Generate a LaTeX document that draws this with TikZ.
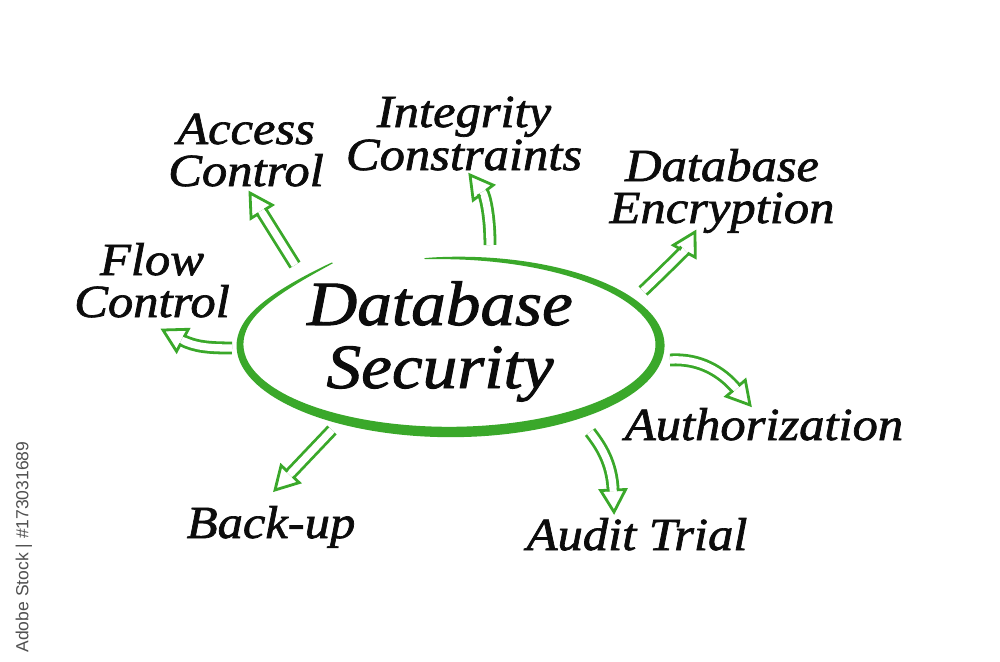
\documentclass[tikz,border=0pt]{standalone}
\usepackage{fontspec}
\setmainfont{Liberation Serif}
\setsansfont{Liberation Sans}
\newfontfamily\lblfont[ItalicFeatures={FakeStretch=1.1,FakeBold=1.5}]{Liberation Serif}
\usetikzlibrary{decorations.markings}
\definecolor{agreen}{RGB}{58,168,42}
\definecolor{inkblack}{RGB}{12,12,12}
\definecolor{wmgray}{RGB}{80,80,80}
\tikzset{
  lbl/.style={anchor=base, inner sep=0pt, align=center, text=inkblack, font=\lblfont\itshape\fontsize{46}{42}\selectfont},
  biglbl/.style={anchor=base, inner sep=0pt, align=center, text=inkblack, font=\lblfont\itshape\fontsize{63}{63}\selectfont},
  harrow/.style={
    postaction={draw=agreen, line width=2.8pt, double=white, double distance=7.3pt, line cap=butt, shorten >=21pt},
    postaction={decorate, decoration={markings, mark=at position 1 with {%
      \draw[agreen, line width=2.8pt, line join=miter, line cap=butt]
        (-22pt,3.65pt) -- (-22pt,12.5pt) -- (0pt,0pt) -- (-22pt,-12.5pt) -- (-22pt,-3.65pt);}}}
  },
  declare function={
    ellt(\p)=97-333*\p;
    ellw(\p)=1+9.5*pow(abs(sin(180*\p))+0.001,0.7);
    ellf(\p)=1+0.14*max(0,(333*\p-297)/36)*max(0,(333*\p-297)/36);
    ellx(\p,\s)=450+(210+\s*ellw(\p)/2)*cos(ellt(\p));
    elly(\p,\s)=345-(87*ellf(\p)+\s*ellw(\p)/2)*sin(ellt(\p));
  }
}
\begin{document}
\begin{tikzpicture}[x=1pt,y=-1pt]
\fill[white] (0,0) rectangle (1000,661);
\path[use as bounding box] (0,0) rectangle (1000,661);

% central ellipse (hand-drawn stroke)
\fill[agreen] plot[domain=0:1, samples=180, variable=\p] ({ellx(\p,1)},{elly(\p,1)})
  -- plot[domain=0:1, samples=180, variable=\p] ({ellx(1-\p,-1)},{elly(1-\p,-1)}) -- cycle;

% texts (anchor = baseline of the last line)
\node[biglbl] (ds) at (440,388) {Database\\Security};

\node[lbl] (ac) at (246,186) {Access\\Control};
\node[lbl] (ic) at (464,170) {Integrity\\[1pt]Constraints};
\node[lbl] (de) at (722,223) {Database\\Encryption};
\node[lbl] (fc) at (152,317) {Flow\\Control};
\node[lbl] (au) at (764,440) {Authorization};
\node[lbl] (at) at (637,550) {Audit Trial};
\node[lbl] (bu) at (271,538) {Back-up};

\node[rotate=90, inner sep=0pt, text=wmgray, font=\sffamily\fontsize{17.5}{18}\selectfont] (wm) at (24,547) {Adobe Stock | \#173031689};

% arrow end points
\coordinate (acT) at (295,265); \coordinate (acH) at (250,193);
\coordinate (icT) at (490,245); \coordinate (icH) at (470,175);
\coordinate (deT) at (643,291); \coordinate (deH) at (695,232);
\coordinate (fcT) at (232,348); \coordinate (fcH) at (163,330);
\coordinate (auT) at (670,360); \coordinate (auH) at (750,405);
\coordinate (atT) at (590,432); \coordinate (atH) at (614,512);
\coordinate (buT) at (332,430); \coordinate (buH) at (275,490);

% arrows
\path[harrow] (acT) -- (acH);
\path[harrow] (icT) .. controls (490,215) and (485,195) .. (icH);
\path[harrow] (deT) .. controls (660,275) and (685,250) .. (deH);
\path[harrow] (fcT) .. controls (210,348) and (195,347) .. (fcH);
\path[harrow] (auT) .. controls (700,358) and (722,372) .. (auH);
\path[harrow] (atT) .. controls (600,445) and (612,462) .. (atH);
\path[harrow] (buT) -- (buH);
\end{tikzpicture}
\end{document}
